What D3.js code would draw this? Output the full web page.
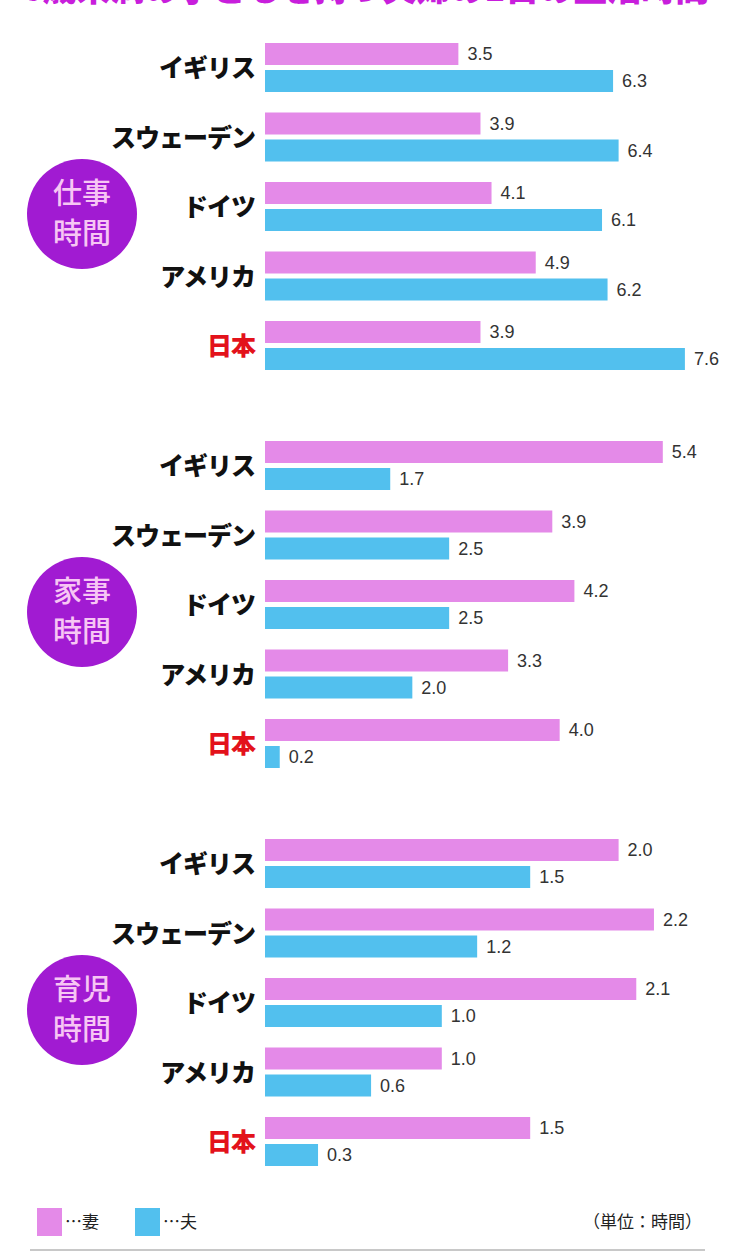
<!DOCTYPE html>
<html>
<head>
<meta charset="utf-8">
<script src="https://cdn.jsdelivr.net/npm/d3@7"></script>
<style>
  html, body { margin: 0; padding: 0; background: #fff; }
  svg { display: block; }
</style>
</head>
<body>
<div id="chart"></div>
<script>
const countries = ["イギリス", "スウェーデン", "ドイツ", "アメリカ", "日本"];
const sectionLabels = [["仕事", "時間"], ["家事", "時間"], ["育児", "時間"]];
const wifeValues = [
  [3.5, 3.9, 4.1, 4.9, 3.9],
  [5.4, 3.9, 4.2, 3.3, 4.0],
  [2.0, 2.2, 2.1, 1.0, 1.5]
];
const husbandValues = [
  [6.3, 6.4, 6.1, 6.2, 7.6],
  [1.7, 2.5, 2.5, 2.0, 0.2],
  [1.5, 1.2, 1.0, 0.6, 0.3]
];
const sectionMax = [8, 6, 2.5];
const legendLabels = ["…妻", "…夫"];
const unitLabel = "（単位：時間）";
const titleText = "6歳未満の子どもを持つ夫婦の1日の生活時間";

const width = 731, height = 1257;
const colors = { wife: "#e48ae8", husband: "#52c0ee" };
const jpFont = "'Noto Sans CJK JP', sans-serif";

const svg = d3.select("#chart").append("svg")
  .attr("width", width)
  .attr("height", height);

// === Title (cut off at top) ===
svg.append("text")
  .attr("x", width / 2)
  .attr("y", 1)
  .attr("text-anchor", "middle")
  .style("font-family", jpFont)
  .style("font-weight", 900)
  .style("font-size", "34px")
  .style("fill", "#c81edc")
  .text(titleText);

const barH = 22;
const rowBand = d3.scaleBand().domain(d3.range(countries.length)).range([0, 69.5 * countries.length]).padding(0);

sectionLabels.forEach((label, s) => {
  const top = 43 + s * 398;
  const x = d3.scaleLinear().domain([0, sectionMax[s]]).range([265, 707]);
  const g = svg.append("g").attr("transform", `translate(0, ${top})`);

  // === Section circle ===
  const cg = g.append("g").attr("transform", `translate(82, 171)`);
  cg.append("circle").attr("r", 55).attr("fill", "#a11bd2");
  cg.selectAll("text")
    .data(label)
    .enter()
    .append("text")
    .attr("x", 0)
    .attr("y", (d, i) => (i === 0 ? -10 : 30))
    .attr("text-anchor", "middle")
    .style("font-family", jpFont)
    .style("font-weight", 500)
    .style("font-size", "29px")
    .style("fill", "#f7c6f4")
    .text((d) => d);

  const rows = g.selectAll("g.row")
    .data(countries.map((c, i) => ({ c, i, wife: wifeValues[s][i], husband: husbandValues[s][i] })))
    .enter()
    .append("g")
    .attr("class", "row")
    .attr("transform", (d) => `translate(0, ${rowBand(d.i)})`);

  rows.append("text")
    .attr("x", 255)
    .attr("y", 25)
    .attr("dy", "0.36em")
    .attr("text-anchor", "end")
    .style("font-family", jpFont)
    .style("font-weight", 900)
    .style("font-size", "25px")
    .style("letter-spacing", "-1px")
    .style("fill", (d) => (d.c === "日本" ? "#e3121b" : "#111"))
    .text((d) => d.c);

  const series = [
    { key: "wife", y: 0 },
    { key: "husband", y: 27 }
  ];

  series.forEach((sr) => {
    rows.append("rect")
      .attr("x", x(0))
      .attr("y", sr.y)
      .attr("width", (d) => x(d[sr.key]) - x(0))
      .attr("height", barH)
      .attr("fill", colors[sr.key]);

    rows.append("text")
      .attr("x", (d) => x(d[sr.key]) + 9)
      .attr("y", sr.y + barH / 2)
      .attr("dy", "0.36em")
      .style("font-family", "'Liberation Sans', Arial, sans-serif")
      .style("font-size", "18px")
      .style("fill", "#333")
      .text((d) => d3.format(".1f")(d[sr.key]));
  });
});

// === Legend ===
const legend = svg.append("g").attr("transform", "translate(0, 1208)");
legendLabels.forEach((t, i) => {
  const lx = 37 + i * 98;
  legend.append("rect")
    .attr("x", lx)
    .attr("y", 0)
    .attr("width", 25)
    .attr("height", 28)
    .attr("fill", i === 0 ? colors.wife : colors.husband);
  legend.append("text")
    .attr("x", lx + 28)
    .attr("y", 14)
    .attr("dy", "0.36em")
    .style("font-family", jpFont)
    .style("font-size", "17px")
    .style("fill", "#222")
    .text(t);
});
legend.append("text")
  .attr("x", 702)
  .attr("y", 14)
  .attr("dy", "0.36em")
  .attr("text-anchor", "end")
  .style("font-family", jpFont)
  .style("font-size", "17px")
  .style("fill", "#222")
  .text(unitLabel);

svg.append("line")
  .attr("x1", 30).attr("x2", 705)
  .attr("y1", 1250).attr("y2", 1250)
  .attr("stroke", "#c8c8c8")
  .attr("stroke-width", 2);
</script>
</body>
</html>
